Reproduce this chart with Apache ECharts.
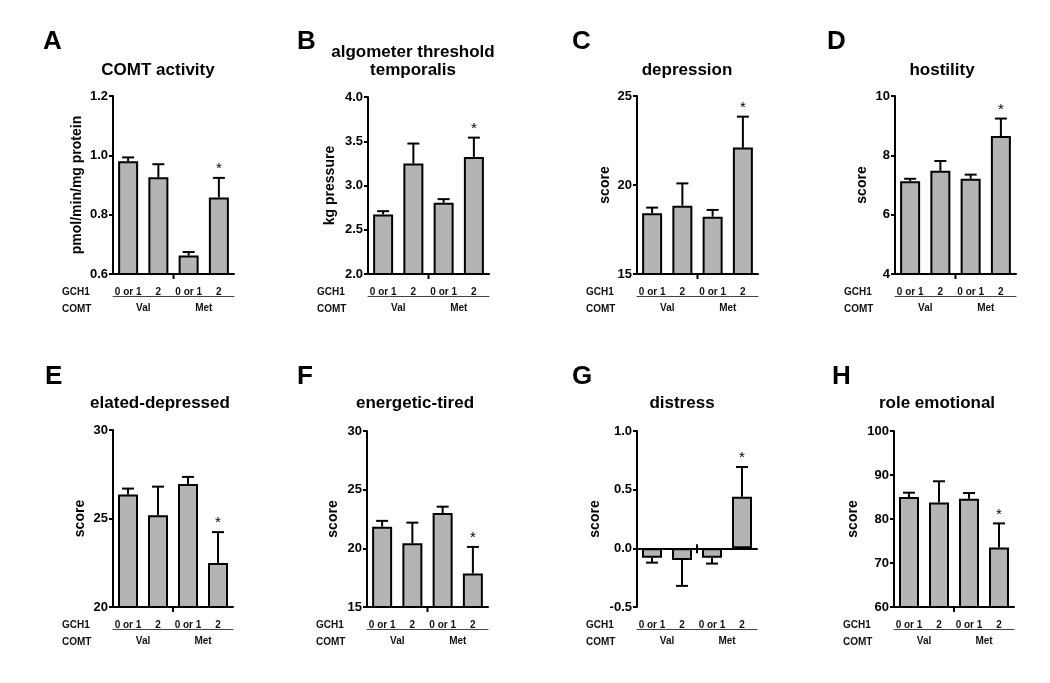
<!DOCTYPE html>
<html>
<head>
<meta charset="utf-8">
<script src="https://cdn.jsdelivr.net/npm/echarts@6/dist/echarts.min.js"></script>
<style>
html, body { margin: 0; padding: 0; background: #fff; }
#chart { width: 1050px; height: 683px; }
</style>
</head>
<body>
<div id="chart"></div>
<script>
// categories
const gch1Labels = ['0 or 1', '2', '0 or 1', '2']
const comtLabels = ['Val', 'Met']

// means and SEM, per panel
const comtActivity = [0.98, 0.926, 0.662, 0.858]
const comtActivitySem = [0.013, 0.044, 0.012, 0.066]
const algometer = [2.673, 3.248, 2.805, 3.323]
const algometerSem = [0.037, 0.226, 0.041, 0.218]
const depression = [18.41, 18.84, 18.22, 22.10]
const depressionSem = [0.32, 1.25, 0.38, 1.74]
const hostility = [7.13, 7.48, 7.21, 8.65]
const hostilitySem = [0.08, 0.33, 0.14, 0.59]
const elatedDepressed = [26.35, 25.19, 26.95, 22.48]
const elatedDepressedSem = [0.34, 1.61, 0.40, 1.75]
const energeticTired = [21.85, 20.43, 23.01, 17.86]
const energeticTiredSem = [0.49, 1.76, 0.54, 2.26]
const distress = [-0.08, -0.10, -0.08, 0.44]
const distressSem = [0.042, 0.22, 0.05, 0.253]
const roleEmotional = [84.98, 83.77, 84.6, 73.5]
const roleEmotionalSem = [1.0, 4.8, 1.3, 5.5]

// significant group (asterisk)
const significant = [false, false, false, true]

const panels = [
  { letter: 'A', title: 'COMT activity', yName: 'pmol/min/mg protein', min: 0.6, max: 1.2, step: 0.2, digits: 1, mean: comtActivity, sem: comtActivitySem },
  { letter: 'B', title: 'algometer threshold\ntemporalis', yName: 'kg pressure', min: 2, max: 4, step: 0.5, digits: 1, mean: algometer, sem: algometerSem },
  { letter: 'C', title: 'depression', yName: 'score', min: 15, max: 25, step: 5, digits: 0, mean: depression, sem: depressionSem },
  { letter: 'D', title: 'hostility', yName: 'score', min: 4, max: 10, step: 2, digits: 0, mean: hostility, sem: hostilitySem },
  { letter: 'E', title: 'elated-depressed', yName: 'score', min: 20, max: 30, step: 5, digits: 0, mean: elatedDepressed, sem: elatedDepressedSem },
  { letter: 'F', title: 'energetic-tired', yName: 'score', min: 15, max: 30, step: 5, digits: 0, mean: energeticTired, sem: energeticTiredSem },
  { letter: 'G', title: 'distress', yName: 'score', min: -0.5, max: 1, step: 0.5, digits: 1, mean: distress, sem: distressSem },
  { letter: 'H', title: 'role emotional', yName: 'score', min: 60, max: 100, step: 10, digits: 0, mean: roleEmotional, sem: roleEmotionalSem }
]

// 版面位置
const layout = [
  { left: 113, top: 96, width: 121, height: 178, letterX: 43, titleX: 158, nameGap: 29 },
  { left: 368, top: 97, width: 121, height: 177, letterX: 297, titleX: 413, nameGap: 31 },
  { left: 637, top: 96, width: 121, height: 178, letterX: 572, titleX: 687, nameGap: 25 },
  { left: 895, top: 96, width: 121, height: 178, letterX: 827, titleX: 942, nameGap: 26 },
  { left: 113, top: 430, width: 120, height: 177, letterX: 45, titleX: 160, nameGap: 26 },
  { left: 367, top: 431, width: 121, height: 176, letterX: 297, titleX: 415, nameGap: 27 },
  { left: 637, top: 431, width: 120, height: 176, letterX: 572, titleX: 682, nameGap: 35 },
  { left: 894, top: 431, width: 120, height: 176, letterX: 832, titleX: 937, nameGap: 34 }
]

const FONT = '"Liberation Sans", Arial, sans-serif'

const grid = []
const xAxis = []
const yAxis = []
const series = []
const graphic = []

panels.forEach((p, k) => {
  const L = layout[k]
  const topRow = k < 4
  grid.push({ left: L.left, top: L.top, width: L.width, height: L.height })

  // bar axis (line sits on zero when zero is in range)
  xAxis.push({
    gridIndex: k, type: 'category', data: gch1Labels, position: 'bottom',
    axisLine: { show: true, lineStyle: { color: '#000', width: 2 } },
    axisTick: { show: false },
    axisLabel: { show: false },
    splitLine: { show: false }
  })
  // GCH1 row
  xAxis.push({
    gridIndex: k, type: 'category', data: gch1Labels, position: 'bottom',
    axisLine: { show: false, onZero: false },
    axisTick: { show: false },
    axisLabel: { margin: 13, color: '#111', fontFamily: FONT, fontWeight: 'bold', fontSize: 10, interval: 0 },
    splitLine: { show: false }
  })
  // COMT row
  xAxis.push({
    gridIndex: k, type: 'category', data: comtLabels, position: 'bottom', offset: 22,
    axisLine: { show: true, onZero: false, lineStyle: { color: '#444', width: 1 } },
    axisTick: { show: false },
    axisLabel: { margin: 7, color: '#111', fontFamily: FONT, fontWeight: 'bold', fontSize: 10, interval: 0 },
    splitLine: { show: false }
  })

  yAxis.push({
    gridIndex: k, type: 'value', min: p.min, max: p.max, interval: p.step,
    name: p.yName, nameLocation: 'middle', nameRotate: 90, nameGap: L.nameGap,
    nameTextStyle: { color: '#000', fontFamily: FONT, fontWeight: 'bold', fontSize: 14 },
    axisLine: { show: true, lineStyle: { color: '#000', width: 2 } },
    axisTick: { show: true, length: 4, lineStyle: { color: '#000', width: 2 } },
    axisLabel: { margin: 5, color: '#000', fontFamily: FONT, fontWeight: 'bold', fontSize: 13,
      formatter: v => v.toFixed(p.digits) },
    splitLine: { show: false }
  })

  series.push({
    type: 'bar', xAxisIndex: k * 3, yAxisIndex: k, data: p.mean,
    barWidth: 20, silent: true,
    itemStyle: { color: '#b4b4b4', borderColor: '#000', borderWidth: 2 }
  })

  const base = p.min > 0 ? p.min : 0
  series.push({
    type: 'custom', xAxisIndex: k * 3, yAxisIndex: k, silent: true, z: 5,
    data: p.mean.map((m, i) => [i, m, p.sem[i]]),
    encode: { x: 0, y: 1 },
    renderItem: (params, api) => {
      const i = api.value(0)
      const m = api.value(1)
      const s = api.value(2)
      const end = m >= 0 ? m + s : m - s
      const p0 = api.coord([i, m])
      const p1 = api.coord([i, end])
      const children = [
        { type: 'line', shape: { x1: p0[0], y1: p0[1], x2: p1[0], y2: p1[1] }, style: { stroke: '#000', lineWidth: 2 } },
        { type: 'line', shape: { x1: p1[0] - 6, y1: p1[1], x2: p1[0] + 6, y2: p1[1] }, style: { stroke: '#000', lineWidth: 2 } }
      ]
      if (significant[i]) {
        children.push({ type: 'text', x: p1[0], y: p1[1] - 9,
          style: { text: '*', fill: '#000', font: '15px ' + FONT, align: 'center', verticalAlign: 'middle' } })
      }
      // group separator tick under the axis
      if (i === 2) {
        const c = api.coord([i, base])
        const band = api.size([1, 0])[0]
        const bx = c[0] - band / 2
        const y0 = base === 0 ? c[1] - 4 : c[1]
        children.push({ type: 'line', shape: { x1: bx, y1: y0, x2: bx, y2: c[1] + 5 }, style: { stroke: '#000', lineWidth: 2 } })
      }
      return { type: 'group', children }
    }
  })

  // 标题、字母和行标签
  graphic.push({
    type: 'text', left: L.letterX, top: topRow ? 29 : 364,
    style: { text: p.letter, fill: '#000', font: 'bold 26px ' + FONT }
  })
  graphic.push({
    type: 'text', x: L.titleX, y: topRow ? (p.title.includes('\n') ? 61 : 70) : 403,
    style: { text: p.title, fill: '#000', font: 'bold 17px ' + FONT, align: 'center', verticalAlign: 'middle', lineHeight: 18 }
  })
  const bottom = L.top + L.height
  graphic.push({
    type: 'text', x: L.left - 51, y: bottom + 18,
    style: { text: 'GCH1', fill: '#111', font: 'bold 10px ' + FONT, align: 'left', verticalAlign: 'middle' }
  })
  graphic.push({
    type: 'text', x: L.left - 51, y: bottom + 35,
    style: { text: 'COMT', fill: '#111', font: 'bold 10px ' + FONT, align: 'left', verticalAlign: 'middle' }
  })
})

const chart = echarts.init(document.getElementById('chart'))
chart.setOption({
  backgroundColor: '#fff',
  animation: false,
  textStyle: { fontFamily: FONT },
  grid, xAxis, yAxis, series, graphic
})
</script>
</body>
</html>
